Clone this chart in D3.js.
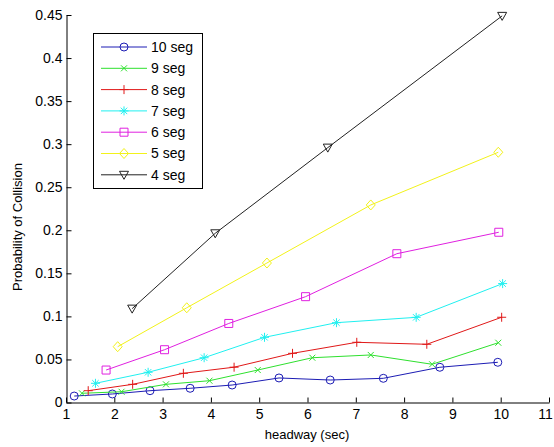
<!DOCTYPE html>
<html><head><meta charset="utf-8">
<script src="https://cdn.jsdelivr.net/npm/d3@7"></script>
<style>
html,body{margin:0;padding:0;background:#fff;}
svg{display:block;font-family:Arial,"Liberation Sans",sans-serif;}
</style></head>
<body>
<svg id="chart" width="554" height="447"></svg>
<script>
const xTicks = [1,2,3,4,5,6,7,8,9,10,11];
const yTicks = [0,0.05,0.1,0.15,0.2,0.25,0.3,0.35,0.4,0.45];
const seriesNames = ["10 seg","9 seg","8 seg","7 seg","6 seg","5 seg","4 seg"];
const headway10 = [1.17,1.96,2.74,3.57,4.44,5.41,6.47,7.57,8.74,9.94];
const prob10 = [0.0075,0.0099,0.0137,0.0165,0.0203,0.0285,0.0261,0.0281,0.0409,0.0467];
const headway9 = [1.33,2.15,3.07,3.97,4.97,6.10,7.31,8.58,9.95];
const prob9 = [0.0107,0.0125,0.0211,0.0253,0.0377,0.052,0.0552,0.0444,0.0694];
const headway8 = [1.46,2.38,3.43,4.48,5.69,7.02,8.47,10.02];
const prob8 = [0.0137,0.0211,0.0339,0.041,0.0571,0.0699,0.0676,0.099];
const headway7 = [1.61,2.70,3.86,5.11,6.60,8.25,10.04];
const prob7 = [0.0223,0.0351,0.052,0.0757,0.0927,0.0989,0.1381];
const headway6 = [1.83,3.04,4.37,5.96,7.85,9.96];
const prob6 = [0.0377,0.0613,0.0918,0.1229,0.1728,0.1977];
const headway5 = [2.07,3.50,5.16,7.31,9.95];
const prob5 = [0.0648,0.110,0.162,0.2294,0.2906];
const headway4 = [2.37,4.09,6.42,10.03];
const prob4 = [0.109,0.1965,0.296,0.449];

const colors = ["#1c1cb4","#2ee02e","#e01818","#20f0f0","#e020e0","#f2f21a","#222222"];
const markers = ["circle","x","plus","star","square","diamond","tridown"];
const xs = [headway10,headway9,headway8,headway7,headway6,headway5,headway4];
const ys = [prob10,prob9,prob8,prob7,prob6,prob5,prob4];
const series = seriesNames.map((n,i)=>({name:n,color:colors[i],marker:markers[i],
  pts: xs[i].map((x,j)=>({x:x,y:ys[i][j]}))}));

function markerPath(type){
  switch(type){
    case "circle": return "M4,0A4,4 0 1,1 -4,0A4,4 0 1,1 4,0Z";
    case "x": return "M-3,-3L3,3M-3,3L3,-3";
    case "plus": return "M-4.5,0L4.5,0M0,-4.5L0,4.5";
    case "star": return "M-4.5,0L4.5,0M0,-4.5L0,4.5M-3.2,-3.2L3.2,3.2M-3.2,3.2L3.2,-3.2";
    case "square": return "M-4,-4L4,-4L4,4L-4,4Z";
    case "diamond": return "M0,-5L4.5,0L0,5L-4.5,0Z";
    case "tridown": return "M-4.5,-3.5L4.5,-3.5L0,4.5Z";
  }
}

const svg = d3.select("#chart");
svg.append("rect").attr("width",554).attr("height",447).attr("fill","#fff");
const x = d3.scaleLinear().domain([1,11]).range([66,549]);
const y = d3.scaleLinear().domain([0,0.45]).range([402.5,15]);

const xAxis = d3.axisBottom(x).tickValues(xTicks).tickFormat(d3.format("d"))
  .tickSizeInner(-5).tickSizeOuter(0).tickPadding(4);
const gx = svg.append("g").attr("transform","translate(0,402.5)").call(xAxis);
const yAxis = d3.axisLeft(y).tickValues(yTicks).tickFormat(d=>String(+d.toFixed(2)))
  .tickSizeInner(-5).tickSizeOuter(0).tickPadding(4);
const gy = svg.append("g").attr("transform","translate(66.5,0)").call(yAxis);
[gx,gy].forEach(g=>{
  g.selectAll("text").attr("font-size",14).attr("fill","#000").attr("font-family","Arial,'Liberation Sans',sans-serif");
  g.selectAll("line,path").attr("stroke","#000");
});
gx.selectAll("text").attr("dy","0.9em");
gx.selectAll(".tick").filter(d=>d===11).select("text").attr("dx",-4);

svg.append("text").attr("x",307).attr("y",439).attr("text-anchor","middle")
  .attr("font-size",13).text("headway (sec)");
svg.append("text").attr("transform","translate(22,227) rotate(-90)").attr("text-anchor","middle")
  .attr("font-size",13).text("Probability of Collision");

const line = d3.line().x(d=>x(d.x)).y(d=>y(d.y));
const sg = svg.append("g");
series.forEach(s=>{
  sg.append("path").datum(s.pts).attr("d",line).attr("fill","none")
    .attr("stroke",s.color).attr("stroke-width",1);
  sg.selectAll(null).data(s.pts).enter().append("path")
    .attr("transform",d=>`translate(${x(d.x)},${y(d.y)})`)
    .attr("d",markerPath(s.marker)).attr("fill","none")
    .attr("stroke",s.color).attr("stroke-width",1);
});

// legend
const lg = svg.append("g");
lg.append("rect").attr("x",93.5).attr("y",33.5).attr("width",109).attr("height",155)
  .attr("fill","#fff").attr("stroke","#000");
series.forEach((s,i)=>{
  const yy = 47 + i*21.3;
  lg.append("line").attr("x1",101).attr("x2",147).attr("y1",yy).attr("y2",yy)
    .attr("stroke",s.color).attr("stroke-width",1);
  lg.append("path").attr("transform",`translate(124,${yy})`).attr("d",markerPath(s.marker))
    .attr("fill","none").attr("stroke",s.color);
  lg.append("text").attr("x",151).attr("y",yy).attr("dy","0.35em").attr("font-size",14).text(s.name);
});
</script>
</body></html>
